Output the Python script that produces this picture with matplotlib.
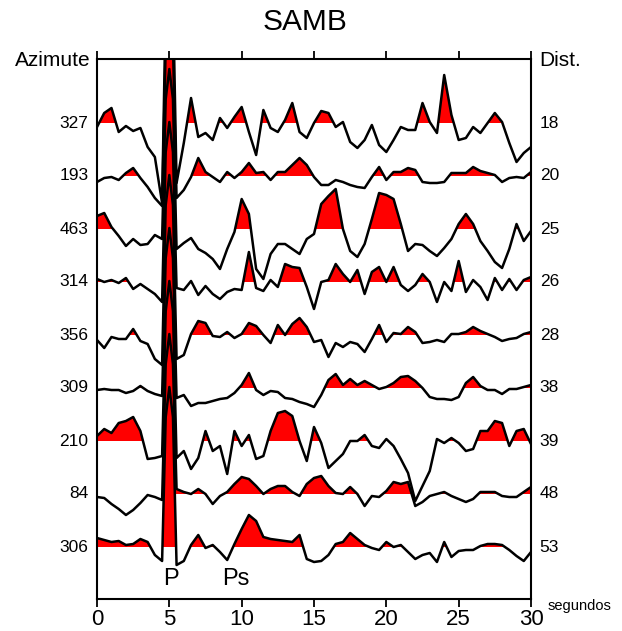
import matplotlib
matplotlib.use("Agg")
import matplotlib.pyplot as plt
import numpy as np

plt.rcParams['font.family'] = ['Liberation Sans', 'DejaVu Sans']

# sample times (s): every 0.5 s, with extra samples across the P pulse
time = [0.0, 0.5, 1.0, 1.5, 2.0, 2.5, 3.0, 3.5, 4.0, 4.5, 4.75, 5.0, 5.25,
        5.5, 6.0, 6.5, 7.0, 7.5, 8.0, 8.5, 9.0, 9.5, 10.0, 10.5, 11.0, 11.5, 12.0,
        12.5, 13.0, 13.5, 14.0, 14.5, 15.0, 15.5, 16.0, 16.5, 17.0, 17.5, 18.0,
        18.5, 19.0, 19.5, 20.0, 20.5, 21.0, 21.5, 22.0, 22.5, 23.0, 23.5, 24.0,
        24.5, 25.0, 25.5, 26.0, 26.5, 27.0, 27.5, 28.0, 28.5, 29.0, 29.5, 30.0]

azimuths = ["327", "193", "463", "314", "356", "309", "210", "84", "306"]
distances = ["18", "20", "25", "26", "28", "38", "39", "48", "53"]

# amplitudes (pixel-like units, positive up), one per trace
tr_327 = [-4, 10, 15, -9, -3, -8, -5, -24, -34, -80, 120, 160, 130, -60, -20, 25, -14, -10, -17, 5, -5, 6,
          16, -9, -32, 13, -5, -9, 3, 20, -9, -15, 0, 12, 10, -4, 1, -19, -25, -17, -2, -22,
          -29, -17, -4, -7, -7, 20, 1, -10, 48, 8, -17, -15, -4, -10, 0, 10, 1, -20, -39, -30, -24]
tr_193 = [-6, -2, -1, -4, 3, 8, -2, -11, -22, -30, 130, 160, 130, -22, -14, -1, 18, 4, -1, -6, 4, -2,
          4, 13, 3, 4, -4, 4, 4, 11, 18, 11, -1, -9, -9, -4, -6, -9, -11, -12, -1, 9,
          -4, 4, 4, 8, 6, -6, -7, -7, -6, 3, 3, 3, 9, 5, 3, 1, -6, -2, -1, -2, 4]
tr_463 = [13, 16, 2, -7, -17, -10, -16, -15, -6, -10, 130, 160, 130, -20, -14, -9, -20, -24, -30, -40, -20, -3,
          30, 15, -40, -50, -25, -15, -15, -20, -25, -10, -5, 25, 33, 40, 0, -22, -28, -15, 10, 36,
          34, 30, 5, -22, -15, -16, -22, -27, -19, -10, 5, 15, 5, -12, -22, -33, -39, -20, 5, -12, -2]
tr_314 = [3, 0, 2, -1, 4, -7, -2, -7, -12, -20, 130, 160, 130, -6, -8, 1, -13, -4, -12, -17, -10, -7,
          -8, 30, -6, -9, 2, -5, 18, 15, 14, -5, -27, 0, 2, 18, 8, 0, 12, -12, 10, 15,
          0, 15, -3, -9, -3, 8, 0, -20, 0, -9, 21, -10, 2, -5, -18, 4, -8, 3, -8, 2, 5]
tr_356 = [-5, -13, -2, -4, -4, 6, -6, -9, -24, -30, 130, 160, 130, -24, -20, 1, 14, 12, -1, -2, 3, -3,
          1, 12, 9, 0, -8, 10, 0, 11, 17, 8, -7, -5, -22, -8, -12, -7, -9, -17, -4, 10,
          -7, 2, 1, 8, 3, -8, -7, -5, -7, 1, 1, 3, 8, 4, 1, -2, -6, -4, -3, 1, 3]
tr_309 = [-2, -1, -2, -2, -5, -3, 2, -3, -6, -8, 130, 160, 130, -10, -7, -18, -15, -15, -13, -11, -10, -5,
          3, 15, -2, -7, -3, -4, -10, -11, -14, -16, -19, -7, 8, 14, 3, 9, 3, 7, 3, -1,
          1, 5, 11, 12, 7, 0, -9, -11, -11, -12, -9, 5, 11, 2, -2, -2, -6, -1, -1, 1, 3]
tr_210 = [5, 12, 8, 18, 20, 24, 10, -18, -17, -15, 130, 160, 130, -17, -10, -28, -17, 10, -10, -5, -33, 10,
          -5, 6, -18, -15, 10, 28, 30, 25, 0, -20, 14, -2, -27, -20, -13, 0, 0, 6, -5, -7,
          2, -5, -18, -32, -60, -45, -30, 2, -2, 3, -2, -10, -8, 10, 10, 20, 18, -5, 10, 12, -3]
tr_84 = [-3, -4, -10, -15, -21, -16, -9, -1, -3, -6, 130, 160, 130, 5, 2, 0, 5, 0, -10, -2, 2, 10,
         17, 15, 8, 0, 5, 8, 8, 2, -2, 10, 16, 18, 8, 1, 0, 7, 0, -12, -2, -3,
         3, 12, 10, 12, -12, -8, -2, 0, 2, -2, -5, -8, -5, 2, 2, 2, -2, -3, -3, 2, 7]
tr_306 = [9, 7, 5, 6, 2, 3, 8, 5, -8, -14, 130, 160, 130, -18, -14, 2, 12, -1, 2, -5, -13, 3,
          18, 32, 26, 10, 8, 7, 6, 5, 12, -12, -15, -14, -8, 3, 5, 14, 8, 2, -1, -3,
          5, 0, 2, -5, -12, -8, -6, -15, 5, -10, -4, -3, -3, 1, 3, 3, 2, -3, -9, -14, -5]

traces = [tr_327, tr_193, tr_463, tr_314, tr_356, tr_309, tr_210, tr_84, tr_306]

W, H, DPI = 622, 631, 100
fig = plt.figure(figsize=(W / DPI, H / DPI), dpi=DPI)
ax_left, ax_right, ax_top, ax_bot = 97, 531, 59, 599
ax = fig.add_axes([ax_left / W, 1 - ax_bot / H, (ax_right - ax_left) / W, (ax_bot - ax_top) / H])

spacing = 53.0  # pixels between trace baselines
first_base = 123.0
scale = 1.0 / spacing

t = np.array(time)
for i, tr in enumerate(traces):
    base = -i
    y = base + np.array(tr, dtype=float) * scale
    ax.fill_between(t, base, y, where=y >= base, interpolate=True, color="#ff0000", lw=0,
                    zorder=2 + 2 * i)
    ax.plot(t, y, color="black", lw=1.8, zorder=3 + 2 * i, solid_joinstyle="round")

top_lim = (first_base - ax_top) / spacing
bot_lim = -(ax_bot - first_base) / spacing
ax.set_ylim(bot_lim, top_lim)
ax.set_xlim(0, 30)

for s in ax.spines.values():
    s.set_linewidth(1.5)
    s.set_zorder(50)

ax.set_xticks([0, 5, 10, 15, 20, 25, 30])
ax.tick_params(axis="x", which="both", direction="out", length=6, width=1.3,
               top=True, labeltop=False, labelsize=16, pad=1.5)
ax.set_yticks([])

for i, (az, d) in enumerate(zip(azimuths, distances)):
    ax.text(-0.02, -i, az, transform=ax.get_yaxis_transform(), ha="right", va="center", fontsize=12.5)
    ax.text(1.02, -i, d, transform=ax.get_yaxis_transform(), ha="left", va="center", fontsize=12.5)

fig.text(305 / W, 1 - 22 / H, "SAMB", ha="center", va="center", fontsize=21.5)
fig.text(91 / W, 1 - 60 / H, "Azimute", ha="right", va="center", fontsize=15)
fig.text(539 / W, 1 - 60 / H, "Dist.", ha="left", va="center", fontsize=15)
fig.text(548 / W, 1 - 606 / H, "segundos", ha="left", va="center", fontsize=10.5)
ax.text(5.1, -8.6, "P", ha="center", va="center", fontsize=17, zorder=60)
ax.text(9.6, -8.6, "Ps", ha="center", va="center", fontsize=17, zorder=60)

fig.savefig("out.png", dpi=DPI)
